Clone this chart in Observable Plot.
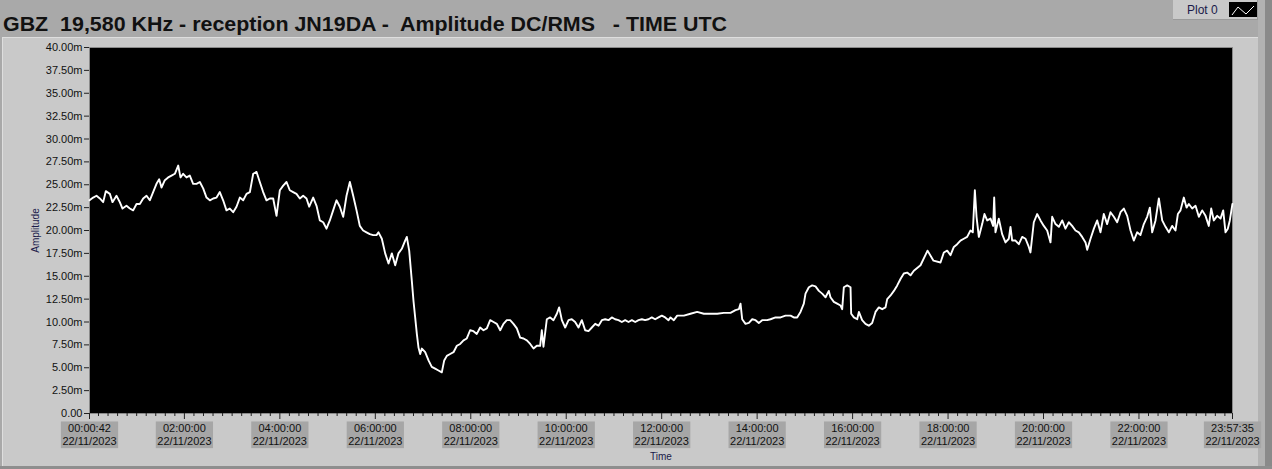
<!DOCTYPE html>
<html><head><meta charset="utf-8">
<script src="https://cdn.jsdelivr.net/npm/d3@7"></script>
<script src="https://cdn.jsdelivr.net/npm/@observablehq/plot@0.6"></script>
<style>
html,body{margin:0;padding:0;}
body{width:1272px;height:469px;background:#a9a9a9;position:relative;overflow:hidden;font-family:"Liberation Sans",Arial,sans-serif;}
#title{position:absolute;left:0;top:0;}
#panel{position:absolute;left:2px;top:37px;width:1256px;height:430px;background:#c9c9c9;border-left:1px solid #dedede;border-top:1px solid #dedede;box-sizing:border-box;}
#bottomline{position:absolute;left:0;top:466px;width:1272px;height:3px;background:#8e8e8e;}
#strip1{position:absolute;left:1258px;top:0;width:7px;height:469px;background:#b2b2b2;}
#strip2{position:absolute;left:1265px;top:0;width:7px;height:469px;background:#8a8a8a;}
#chart{position:absolute;left:0;top:38px;}
#legend{position:absolute;left:1173px;top:0;width:85px;height:20px;background:#c9c9c9;border-right:1px solid #9a9a9a;border-bottom:1px solid #9a9a9a;box-sizing:border-box;}
#legend span{position:absolute;left:14px;top:3px;font-size:12px;color:#1a1a4a;font-family:"Liberation Sans",Arial,sans-serif;}
#legend svg{position:absolute;left:56px;top:2px;}
</style></head>
<body>
<svg id="title" width="1000" height="37"><text x="3" y="31" font-family="Liberation Sans, Arial, sans-serif" font-weight="bold" font-size="20" fill="#111" textLength="724" lengthAdjust="spacingAndGlyphs" xml:space="preserve">GBZ  19,580 KHz - reception JN19DA -  Amplitude DC/RMS   - TIME UTC</text></svg>
<div id="panel"></div>
<div id="strip1"></div><div id="strip2"></div>
<div id="bottomline"></div>
<div id="legend"><span>Plot 0</span><svg width="28" height="15"><rect width="28" height="15" fill="black"/><polyline points="3,13 9,5 17,12 25,4" fill="none" stroke="white" stroke-width="1"/></svg></div>
<div id="chart"></div>
<script>
// time in minutes after 00:00 UTC (22/11/2023), amplitude in milli-units (m)
const minutes = [
0.7,5.3,9.5,13.7,17.9,21.2,26.3,29.6,34.6,38.8,42.2,47.2,51.4,55.6,59.8,64.0,68.2,72.4,76.5,80.7,84.9,88.3,91.2,95.4,99.6,103.8,108.0,112.2,115.1,118.4,122.6,126.8,131.0,135.2,139.4,143.6,147.8,152.0,156.2,160.4,164.5,168.7,172.9,177.1,181.3,185.5,189.7,193.9,198.1,202.3,206.5,210.7,214.8,219.0,223.2,227.4,231.6,235.8,240.0,244.2,248.4,252.5,256.7,260.9,265.1,269.3,273.5,276.9,281.9,286.1,290.3,294.5,298.6,302.8,307.0,311.2,315.4,319.6,323.8,328.0,332.2,336.4,340.5,344.7,348.9,353.1,357.3,361.5,
364.0,368.2,372.4,376.6,380.8,385.0,389.1,393.3,397.5,399.6,402.6,405.9,408.0,410.1,412.2,414.3,416.4,418.5,422.7,426.9,431.0,435.2,439.4,443.6,446.6,449.9,454.1,458.3,462.5,466.7,470.9,475.0,479.2,483.4,487.6,491.8,496.0,500.2,504.4,508.6,512.8,517.0,521.1,525.3,529.5,533.7,537.9,542.1,546.3,550.5,554.7,558.9,563.0,567.2,569.3,571.4,575.6,579.8,584.0,588.2,591.1,594.5,598.7,602.9,607.0,611.2,615.4,619.6,623.8,628.0,632.2,636.4,640.6,644.8,649.0,653.1,657.3,661.5,665.7,669.9,674.1,678.3,682.5,686.7,690.9,695.1,699.2,703.4,707.6,711.8,716.0,720.2,724.4,728.6,
731.1,735.3,739.5,747.9,756.2,764.6,773.0,781.4,789.8,798.1,806.5,812.8,817.0,819.1,821.2,825.4,829.6,833.8,838.0,842.1,846.3,852.6,856.8,863.1,869.4,875.7,882.0,886.1,890.3,894.5,898.7,900.8,905.0,909.2,913.4,917.6,921.8,926.0,930.1,932.2,936.4,940.6,944.8,946.9,949.0,953.2,957.4,958.2,961.6,965.8,967.9,972.0,976.2,980.4,984.6,988.8,993.0,997.2,1001.4,1003.5,1007.7,1011.9,1016.1,1020.2,1024.4,1028.6,1032.8,1037.0,1045.4,1054.2,1061.7,
1070.5,1074.7,1078.9,1083.1,1087.3,1091.5,1095.6,1099.8,1104.0,1108.2,1111.1,1113.7,1115.8,1118.7,1122.9,1125.8,1129.2,1133.4,1136.7,1138.0,1139.6,1143.8,1148.0,1152.2,1156.4,1158.5,1160.6,1164.8,1169.0,1173.2,1177.4,1181.5,1183.6,1187.8,1192.0,1196.2,1200.4,1204.6,1208.8,1210.9,1215.1,1219.3,1223.5,1227.6,1231.8,1236.0,1240.2,1244.4,1248.6,1252.8,1254.9,1259.1,1263.3,1267.5,1271.6,1275.8,1280.0,1284.2,1288.4,1292.6,1296.8,1301.0,1305.2,1309.4,1313.5,1317.7,1321.9,1326.1,1330.3,1333.7,1336.6,1340.8,1345.0,1349.2,1353.4,1357.6,1361.7,1365.9,1368.9,1372.2,1376.4,1379.8,1382.7,1386.9,1391.1,1395.3,1399.5,1403.7,1407.8,1410.8,1414.1,1418.3,1422.5,1425.9,1428.8,1431.7,1434.2,1437.5
];
const amplitude = [
23.3,23.6,23.8,23.5,23.1,24.3,24.0,23.1,23.8,23.1,22.4,22.7,22.4,22.2,22.9,22.9,23.5,23.8,23.3,24.2,25.1,25.6,24.7,25.5,25.8,26.0,26.2,27.1,25.8,26.2,25.8,26.0,25.1,25.1,25.3,24.6,23.6,23.3,23.5,23.6,24.2,23.3,22.2,22.4,22.0,22.6,23.6,23.3,24.0,24.2,26.2,26.4,25.3,24.2,23.3,23.5,23.5,21.6,24.4,24.9,25.3,24.4,24.2,24.0,23.5,23.8,23.5,22.6,23.6,22.7,21.1,20.9,20.2,21.1,22.2,23.3,22.6,21.5,23.8,25.3,23.8,22.2,20.5,20.0,19.8,19.6,19.5,19.5,
19.8,19.1,17.5,16.4,17.5,16.2,17.5,18.0,18.9,19.3,17.8,14.5,12.3,10.5,8.7,7.2,6.5,7.1,6.7,5.8,5.1,4.9,4.7,4.5,5.8,6.3,6.5,6.7,7.4,7.6,8.0,8.2,9.1,9.0,8.7,9.4,9.1,9.3,10.2,10.0,9.8,9.1,9.8,10.2,10.2,9.8,9.3,8.3,8.2,8.0,7.6,7.1,7.4,7.4,9.1,7.3,10.3,10.5,10.2,10.9,11.6,10.2,9.4,10.2,10.3,10.0,9.4,10.2,9.1,9.0,9.4,9.8,9.6,10.2,10.3,10.2,10.5,10.3,10.2,10.0,10.2,10.0,10.2,10.0,10.2,10.3,10.2,10.3,10.5,10.3,10.5,10.7,10.5,10.2,
10.5,10.2,10.7,10.7,10.9,11.1,10.9,10.9,10.9,11.0,11.0,11.3,11.4,12.0,10.3,9.8,9.9,10.3,10.2,9.9,10.2,10.2,10.3,10.5,10.5,10.7,10.7,10.5,10.5,11.1,12.0,13.1,13.8,14.0,13.9,13.4,13.1,12.7,13.4,12.7,12.2,12.0,11.8,11.4,13.8,14.0,13.8,10.9,10.5,10.3,11.1,10.2,9.8,9.6,9.9,11.1,11.6,11.4,11.6,12.5,12.9,13.4,14.0,14.7,15.3,15.4,15.1,15.6,16.2,17.8,16.7,
16.5,17.6,17.8,17.3,18.2,18.5,18.9,19.1,19.3,20.0,19.8,24.4,21.5,19.3,20.7,21.8,21.1,21.3,20.5,23.6,19.8,21.3,19.6,18.7,19.1,20.4,18.9,18.9,18.5,19.3,19.1,18.2,17.6,20.9,21.8,21.1,20.5,20.0,18.7,21.5,20.7,20.4,21.1,20.2,20.9,20.5,20.0,19.8,19.3,18.7,17.9,19.1,20.2,21.1,19.8,21.8,20.7,22.0,21.5,20.9,22.0,22.4,21.6,20.0,18.9,19.8,19.5,20.7,21.5,22.5,19.8,21.1,23.5,21.1,20.4,19.8,20.5,20.0,21.8,22.2,23.6,22.5,22.9,22.4,22.7,21.5,22.2,21.6,20.5,22.4,21.1,21.6,21.3,22.2,19.8,20.2,21.1,22.9
];
const tickTimes = ["00:00:42","02:00:00","04:00:00","06:00:00","08:00:00","10:00:00","12:00:00","14:00:00","16:00:00","18:00:00","20:00:00","22:00:00","23:57:35"];
const dateLabel = "22/11/2023";
const yTicks = [0,2.5,5,7.5,10,12.5,15,17.5,20,22.5,25,27.5,30,32.5,35,37.5,40];

const base = Date.UTC(2023, 10, 22);
const toDate = m => new Date(base + m * 60000);
const parseHMS = s => { const [h, m, sec] = s.split(":").map(Number); return new Date(base + (h * 3600 + m * 60 + sec) * 1000); };
const majorTicks = tickTimes.map(parseHMS);
const xDomain = [majorTicks[0], majorTicks[majorTicks.length - 1]];
const minorTicks = d3.range(12, 1437, 12).filter(m => m % 120 !== 0).map(toDate);
const data = minutes.map((m, i) => ({t: toDate(m), v: amplitude[i]}));
const fmtT = d3.utcFormat("%H:%M:%S");
const fmtY = d => d === 0 ? "0.00" : d.toFixed(2) + "m";

const chart = Plot.plot({
  width: 1258, height: 428,
  marginLeft: 89, marginRight: 26, marginTop: 9, marginBottom: 53,
  style: {background: "transparent", fontFamily: "Liberation Sans, Arial, sans-serif", fontSize: "11px", color: "#111", overflow: "visible"},
  x: {type: "utc", domain: xDomain},
  y: {domain: [0, 40]},
  marks: [
    Plot.frame({fill: "black", stroke: "#8a8a8a"}),
    Plot.axisY({ticks: yTicks, tickSize: 5, tickPadding: 2, tickFormat: fmtY, label: null, stroke: "#222"}),
    Plot.axisX({ticks: minorTicks, tickSize: 3, tickFormat: () => "", label: null, stroke: "#222"}),
    Plot.axisX({ticks: majorTicks, tickSize: 6, tickPadding: 4, tickFormat: d => fmtT(d) + "\n" + dateLabel, label: null, lineHeight: 1.15, stroke: "#222"}),
    Plot.line(data, {x: "t", y: "v", stroke: "white", strokeWidth: 1.9}),
    Plot.text(["Amplitude"], {text: d => d, frameAnchor: "left", textAnchor: "middle", rotate: -90, dx: -54, fontSize: 10, fill: "#1a1a4a"}),
    Plot.text(["Time"], {text: d => d, frameAnchor: "bottom", lineAnchor: "middle", dy: 43, fontSize: 10, fill: "#1a1a4a"})
  ]
});
document.getElementById("chart").append(chart);
chart.querySelectorAll('g[aria-label="x-axis tick label"] text').forEach(t => {
  if (!t.textContent.trim()) return;
  const b = t.getBBox();
  const r = document.createElementNS("http://www.w3.org/2000/svg", "rect");
  r.setAttribute("x", b.x - 1.5);
  r.setAttribute("y", b.y - 1);
  r.setAttribute("width", b.width + 3);
  r.setAttribute("height", b.height + 2);
  r.setAttribute("fill", "#a6a6a6");
  if (t.getAttribute("transform")) r.setAttribute("transform", t.getAttribute("transform"));
  t.parentNode.insertBefore(r, t);
});
</script>
</body></html>
